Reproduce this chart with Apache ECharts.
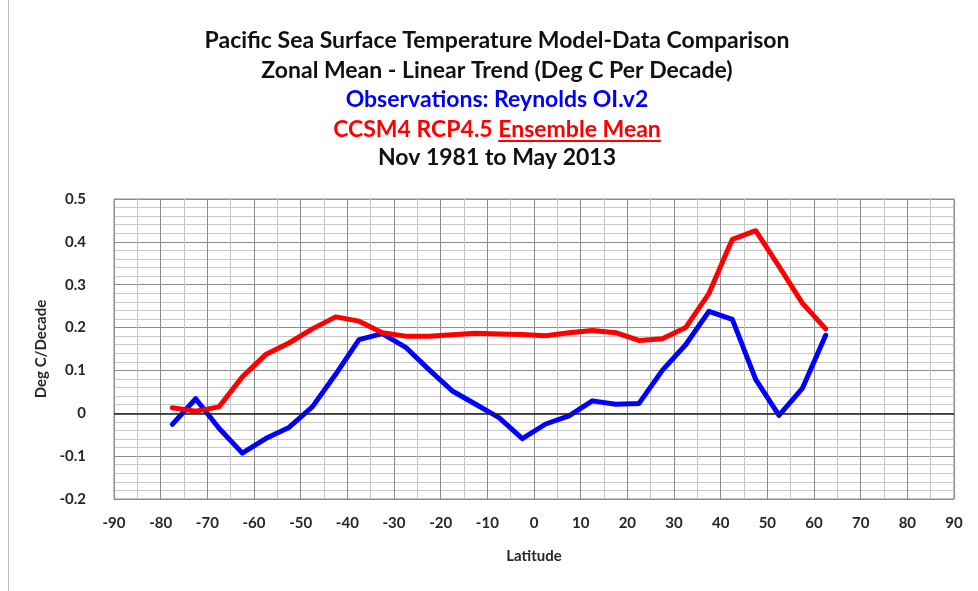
<!DOCTYPE html>
<html>
<head>
<meta charset="utf-8">
<script src="https://cdn.jsdelivr.net/npm/echarts@6/dist/echarts.min.js"></script>
<style>
  html, body { margin: 0; padding: 0; background: #ffffff; }
  #chart { width: 978px; height: 591px; }
</style>
</head>
<body>
<div id="chart"></div>
<script>
// ---- Data ----
var titleLines = [
  "Pacific Sea Surface Temperature Model-Data Comparison",
  "Zonal Mean - Linear Trend (Deg C Per Decade)",
  "Observations: Reynolds OI.v2",
  "CCSM4 RCP4.5 Ensemble Mean",
  "Nov 1981 to May 2013"
];
var underlinedPrefix = "CCSM4 RCP4.5 ";
var underlinedWords = "Ensemble Mean";
var yAxisName = "Deg C/Decade";
var xAxisName = "Latitude";

var latitudes = [-77.5, -72.5, -67.5, -62.5, -57.5, -52.5, -47.5, -42.5, -37.5, -32.5,
                 -27.5, -22.5, -17.5, -12.5, -7.5, -2.5, 2.5, 7.5, 12.5, 17.5,
                 22.5, 27.5, 32.5, 37.5, 42.5, 47.5, 52.5, 57.5, 62.5];

var observations = [-0.026, 0.034, -0.035, -0.093, -0.059, -0.033, 0.015, 0.091, 0.172, 0.186,
                    0.154, 0.102, 0.052, 0.021, -0.010, -0.059, -0.025, -0.006, 0.029, 0.021,
                    0.023, 0.100, 0.160, 0.238, 0.219, 0.079, -0.005, 0.058, 0.182];

var ensembleMean = [0.013, 0.005, 0.015, 0.085, 0.137, 0.164, 0.197, 0.225, 0.215, 0.188,
                    0.180, 0.180, 0.183, 0.187, 0.185, 0.184, 0.181, 0.188, 0.193, 0.188,
                    0.170, 0.174, 0.200, 0.280, 0.406, 0.426, 0.343, 0.257, 0.197];

function pairs(xs, ys) {
  var out = [];
  for (var i = 0; i < xs.length; i++) out.push([xs[i], ys[i]]);
  return out;
}

var FONT = 'Lato, "Open Sans", sans-serif';
var TITLE_FONT = 'bold 23px ' + FONT;
var chart = echarts.init(document.getElementById('chart'), null, { renderer: 'canvas' });

var titleColors = ['#111111', '#111111', '#0000ff', '#ff0000', '#111111'];
var titleY = [41, 71, 100, 130, 158];
var titleCenterX = 497;
var graphics = [];
for (var i = 0; i < titleLines.length; i++) {
  graphics.push({
    type: 'text', x: titleCenterX, y: titleY[i],
    style: {
      text: titleLines[i], fill: titleColors[i],
      font: TITLE_FONT,
      textAlign: 'center', textVerticalAlign: 'middle'
    }
  });
}
// underline under "Ensemble Mean" (position measured from the rendered text)
var ctx = document.createElement('canvas').getContext('2d');
ctx.font = TITLE_FONT;
var fullW = ctx.measureText(titleLines[3]).width;
var preW = ctx.measureText(underlinedPrefix).width;
var wordW = ctx.measureText(underlinedWords).width;
var ulStart = titleCenterX - fullW / 2 + preW;
graphics.push({
  type: 'line',
  shape: { x1: ulStart, y1: titleY[3] + 11, x2: ulStart + wordW, y2: titleY[3] + 11 },
  style: { stroke: '#ff0000', lineWidth: 2 }
});
// outer frame line on the left
graphics.push({
  type: 'line',
  shape: { x1: 8.5, y1: 0, x2: 8.5, y2: 591 },
  style: { stroke: '#c0c0c0', lineWidth: 1 }
});

var option = {
  backgroundColor: '#ffffff',
  animation: false,
  graphic: graphics,
  grid: {
    left: 114, right: 24, top: 199, height: 300,
    show: true, borderColor: '#8c8c8c', borderWidth: 1, backgroundColor: 'transparent'
  },
  xAxis: {
    type: 'value', min: -90, max: 90, interval: 10,
    name: xAxisName, nameLocation: 'middle', nameGap: 50,
    nameTextStyle: { fontFamily: FONT, fontWeight: 'bold', fontSize: 15, color: '#262626' },
    axisLine: { show: false }, axisTick: { show: false },
    axisLabel: { fontFamily: FONT, fontWeight: 'bold', fontSize: 15, color: '#262626', margin: 17 },
    splitLine: { show: true, lineStyle: { color: '#8c8c8c', width: 1 } },
    minorTick: { show: false, splitNumber: 2 },
    minorSplitLine: { show: true, lineStyle: { color: '#c4c4c4', width: 1 } }
  },
  yAxis: {
    type: 'value', min: -0.2, max: 0.5, interval: 0.1,
    name: yAxisName, nameLocation: 'middle', nameGap: 58, nameRotate: 90,
    nameTextStyle: { fontFamily: FONT, fontWeight: 'bold', fontSize: 15, color: '#262626' },
    axisLine: { show: false }, axisTick: { show: false },
    axisLabel: {
      fontFamily: FONT, fontWeight: 'bold', fontSize: 15, color: '#262626', margin: 28,
      formatter: function (v) { var r = Math.round(v * 10) / 10; return String(r === 0 ? 0 : r); }
    },
    splitLine: { show: true, lineStyle: { color: '#8c8c8c', width: 1 } },
    minorTick: { show: false, splitNumber: 5 },
    minorSplitLine: { show: true, lineStyle: { color: '#c8c8c8', width: 1 } }
  },
  series: [
    {
      name: 'Observations: Reynolds OI.v2', type: 'line',
      data: pairs(latitudes, observations),
      symbol: 'none', smooth: false,
      lineStyle: { color: '#0000ff', width: 5, cap: 'round', join: 'round' },
      markLine: {
        silent: true, symbol: 'none', label: { show: false },
        lineStyle: { color: '#222222', width: 1.5, type: 'solid' },
        data: [{ yAxis: 0 }]
      },
      z: 3
    },
    {
      name: 'CCSM4 RCP4.5 Ensemble Mean', type: 'line',
      data: pairs(latitudes, ensembleMean),
      symbol: 'none', smooth: false,
      lineStyle: { color: '#ff0000', width: 5, cap: 'round', join: 'round' },
      z: 4
    }
  ]
};
chart.setOption(option);
</script>
</body>
</html>
